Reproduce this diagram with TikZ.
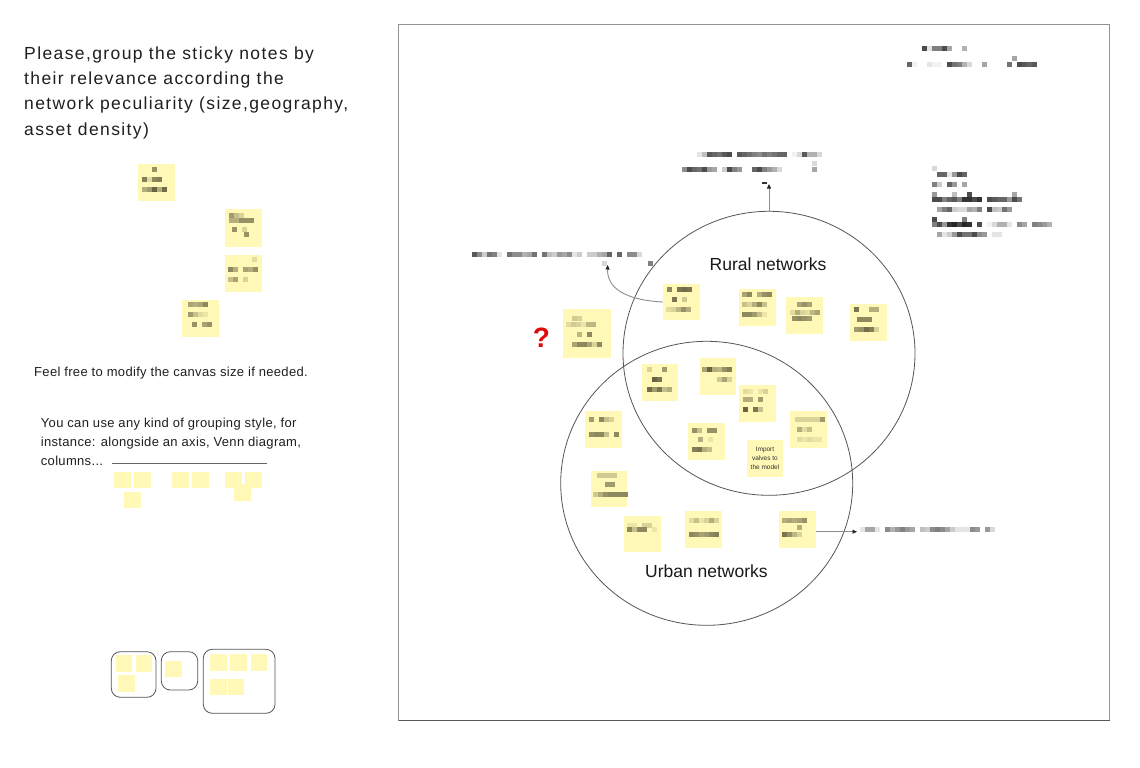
\documentclass[tikz,border=0pt]{standalone}
\usepackage{fontspec}
\setmainfont{Liberation Sans}
\newfontfamily\titlefont[LetterSpace=8]{Liberation Sans}
\newfontfamily\smallfont[LetterSpace=2.5]{Liberation Sans}
\usetikzlibrary{shapes.geometric,arrows.meta}
\definecolor{notefill}{RGB}{255,248,182}
\definecolor{noteink}{RGB}{66,62,36}
\definecolor{qred}{RGB}{225,10,10}
\definecolor{linegray}{RGB}{85,85,85}
\newcommand\pixrow[3]{%
  \foreach \g [count=\i from 0] in {#3} {%
    \ifnum\g>0 \fill[black!\g!white] ({#1+5*\i},{#2-2.5}) rectangle ++(5,5);\fi
  }}
\newcommand\inkrow[3]{%
  \foreach \g [count=\i from 0] in {#3} {%
    \ifnum\g>0 \fill[noteink!\g!notefill] ({#1+5*\i},{#2-2.5}) rectangle ++(5,5);\fi
  }}
\tikzset{
  sticky/.style={rectangle, fill=notefill, draw=none, inner sep=0pt, minimum width=36.7, minimum height=36.7},
  mini/.style={rectangle, fill=notefill, draw=none, inner sep=0pt, minimum width=16.5, minimum height=16.5},
  setcircle/.style={ellipse, draw=linegray, line width=0.8, minimum width=292, minimum height=284, inner sep=0pt},
  grpbox/.style={draw=linegray, line width=0.8, rounded corners=9},
  arr/.style={draw=black!45, line width=0.9, -{Triangle[length=4.5, width=4, color=black!85]}},
  bigtext/.style={font={\titlefont\fontsize{17.5}{25.3}\selectfont}, text=black!88, align=left, inner sep=0pt, anchor=base west},
  smalltext/.style={font={\smallfont\fontsize{13}{19}\selectfont}, text=black!88, align=left, inner sep=0pt, anchor=base west},
  setlabel/.style={font={\fontsize{17.5}{20}\selectfont}, text=black!90, inner sep=0pt, anchor=base},
}
\begin{document}
\begin{tikzpicture}[x=1pt, y=-1pt]
\useasboundingbox (0,0) rectangle (1140,768);
\fill[white] (0,0) rectangle (1140,768);

% ---------- left column ----------
% (base anchor of a multi-line node = baseline of its last line)
\node[bigtext] (title) at (24,135.2) {Please,group the sticky notes by\\their relevance according the\\network peculiarity (size,geography,\\asset density)};

\node[sticky, minimum height=37.3] (la) at (156.7,182.2) {};
\node[sticky, minimum height=37.3] (lb) at (243.3,228) {};
\node[sticky, minimum height=37.3] (lc) at (243.3,273.7) {};
\node[sticky, minimum height=37.3] (ld) at (200.8,318.7) {};
\inkrow{151.7}{169.3}{55}
\inkrow{141.7}{179}{65,15,60,65}
\inkrow{141.7}{189}{40,50,80,40,75}
\inkrow{229}{215}{50,30,20}
\inkrow{229}{220}{40,40,55,55,55}
\inkrow{232}{229.7}{55,0,20}
\inkrow{239}{234.7}{0,55}
\inkrow{252}{259}{15}
\inkrow{228}{269}{60,40,0,45,40,55}
\inkrow{228}{279}{30,45,0,20,0}
\inkrow{188}{304}{45,40,45,60}
\inkrow{188}{314}{50,30,15,10}
\inkrow{192}{324}{55,0,45,55}

\node[smalltext] (feel) at (34,376.7) {Feel free to modify the canvas size if needed.};
\node[smalltext] (youcan) at (40.7,465.3) {You can use any kind of grouping style, for\\instance: alongside an axis, Venn diagram,\\columns...};
\draw[black!60, line width=0.8] (111.7,463.3) -- (266.7,463.3);

\node[mini] (s1) at (122.7,480.2) {};
\node[mini] (s2) at (142.7,480.2) {};
\node[mini] (s3) at (132.7,500) {};
\node[mini] (s4) at (180.3,480.2) {};
\node[mini] (s5) at (200.3,480.2) {};
\node[mini] (s6) at (233.3,480.2) {};
\node[mini] (s7) at (253.3,480.2) {};
\node[mini] (s8) at (242.7,492.5) {};

\draw[grpbox] (111.3,651.7) rectangle (156,697.3);
\draw[grpbox] (161.3,651.7) rectangle (197.7,690);
\draw[grpbox] (203.3,649.3) rectangle (275,713.3);
\node[mini] (g1) at (124.2,663.7) {};
\node[mini] (g2) at (143.8,663.7) {};
\node[mini] (g3) at (126.5,683.7) {};
\node[mini] (g4) at (173.5,669.2) {};
\node[mini] (g5) at (218.7,662.7) {};
\node[mini] (g6) at (238.3,662.7) {};
\node[mini] (g7) at (258.8,662.7) {};
\node[mini] (g8) at (218.7,687.2) {};
\node[mini] (g9) at (236.2,687.2) {};

% ---------- canvas ----------
\draw[black!42, line width=1.3] (398.5,24.5) rectangle (1109.5,720.5);
\draw[black!65, line width=1.3] (398.5,720.5) -- (1109.5,720.5);

\node[setcircle] (rural) at (769,353.3) {};
\node[setcircle] (urban) at (706.7,483.3) {};
\node[setlabel] (rurallbl) at (768,270.5) {Rural networks};
\node[setlabel] (urbanlbl) at (706.4,577.7) {Urban networks};

% sticky notes in canvas
\node[sticky] (n1) at (681.3,302) {};
\node[sticky] (n2) at (757.3,307.7) {};
\node[sticky] (n3) at (804.3,315.7) {};
\node[sticky] (n4) at (868.3,322.3) {};
\node[sticky, minimum width=48.3, minimum height=48.7] (nq) at (586.8,333.7) {};
\node[sticky] (n6) at (660,382.3) {};
\node[sticky] (n7) at (718,376.8) {};
\node[sticky] (n8) at (757.5,403.7) {};
\node[sticky] (n9) at (808.3,429.3) {};
\node[sticky] (n10) at (706.7,441.7) {};
\node[sticky, align=center, font={\fontsize{6.5}{8.7}\selectfont}, text=black!80] (n11) at (765,458.3) {Import\\valves to\\the model};
\node[sticky] (n12) at (603.3,429.7) {};
\node[sticky] (n13) at (609,489) {};
\node[sticky] (n14) at (642.3,534) {};
\node[sticky] (n15) at (703.3,529.3) {};
\node[sticky] (n16) at (797.3,529.3) {};

% blurred contents of notes
\inkrow{666.7}{289.3}{60,0,70,75,70}
\inkrow{672.3}{299.3}{70,0,25}
\inkrow{666}{309.3}{15,20,35,55,40}
\inkrow{742}{294.3}{45,60,0,40,55,60}
\inkrow{742}{304.3}{30,20,40,60,30}
\inkrow{742}{314.3}{60,60,50,30,10}
\inkrow{797}{304.3}{45,55,45}
\inkrow{790}{312.3}{15,40,20,15,35,45}
\inkrow{792}{318.3}{55,60,55,50}
\inkrow{854}{309.3}{70,0,0,40,40}
\inkrow{857}{319.3}{60,60,60}
\inkrow{854}{329.3}{50,55,75,65,20}
\inkrow{572}{318.3}{25,20}
\inkrow{566}{324.3}{15,25,20,10,35,35}
\inkrow{577}{334.3}{35,0,60}
\inkrow{572}{344.3}{45,60,60,45,20,60}
\inkrow{647}{369.7}{20,0,0,50}
\inkrow{652}{379.7}{80,70}
\inkrow{647}{389.7}{75,50,70,30,40}
\inkrow{702}{369.3}{45,80,40,35,55,65}
\inkrow{717}{379.3}{25,45,20}
\inkrow{743}{391}{15,10,0,10,20}
\inkrow{743}{399.3}{40,40,0,50}
\inkrow{743}{409.3}{80,0,70,30}
\inkrow{795}{419}{20,20,20,20,20,50}
\inkrow{797}{429.3}{40,15,30}
\inkrow{797}{439.3}{15,10,15,10,10}
\inkrow{692}{430}{55,30,0,55,55}
\inkrow{698}{439.3}{40,0,10}
\inkrow{692}{449.3}{65,70,40,30}
\inkrow{589}{419.3}{50,0,60,30,20}
\inkrow{589}{434.3}{55,60,60,30,0,60}
\inkrow{597}{475.7}{25,25,25,25}
\inkrow{605}{484}{50,50}
\inkrow{593}{494.3}{25,40,55,60,60,60,60}
\inkrow{627}{525}{10,10,0,20,20}
\inkrow{627}{529.3}{60,30,60,60,0,10}
\inkrow{689}{520}{15,30,10,20,40,20}
\inkrow{689}{534.3}{60,55,45,50,60,65}
\inkrow{782}{520}{40,45,40,45,55}
\inkrow{797}{527.3}{40}
\inkrow{782}{534.3}{70,55,35,20}

\node[font={\bfseries\fontsize{28}{30}\selectfont}, text=qred, inner sep=0pt, anchor=base] (qmark) at (541.5,347.3) {?};

% connectors
\coordinate (topend) at (769,184);
\coordinate (leftend) at (607.7,265);
\coordinate (rightend) at (857,531.7);
\draw[arr] (rural.north) -- (topend);
\draw[arr] (n1.west) .. controls (625,300) and (607,288) .. (leftend);
\draw[arr] (n16.east |- rightend) -- (rightend);

% blurred annotations
\pixrow{921.7}{49}{70,10,50,50,70,35,0,0,30}
\pixrow{1012}{59}{35}
\pixrow{906.7}{64.3}{60,5,0,0,10,5,5,0,70,55,50,30,15,0,0,35,0,0,0,0,55,0,70,65,60,65}
\pixrow{697.3}{154.3}{10,25,65,60,55,65,70,0,65,60,55,50,45,55,50,55,60,60,0,5,15,65,30,30,15}
\pixrow{812}{163.3}{15}
\pixrow{682.3}{169.3}{45,70,60,55,70,40,35,0,20,70,50,40,0,0,60,70,50,40,30,15,0,0,0,0,0,0,35}
\fill[black!80] (762,181.7) rectangle (766.5,183.7);
\pixrow{471.7}{254.3}{65,45,20,55,50,10,0,55,45,45,30,35,55,0,55,25,20,40,35,45,10,20,0,20,20,30,35,60,0,60,0,45,45,15}
\pixrow{602}{263.3}{15}
\pixrow{647.5}{263.3}{50}
\pixrow{931.7}{168.3}{15}
\pixrow{931.7}{174.3}{0,60,60,10,40,70,60}
\pixrow{931.7}{184.3}{50,20,0,60,40,0,35}
\pixrow{931.7}{194.3}{40,0,0,0,25,0,0,70,0,0,0,0,0,0,0,0,35}
\pixrow{931.7}{199.3}{70,70,50,60,65,50,80,80,70,80,0,70,65,60,60,40,70,55}
\pixrow{931.7}{209.3}{0,35,50,60,20,15,15,35,30,50,0,70,25,20,55,40}
\pixrow{931.7}{219.3}{70,0,0,0,0,0,50}
\pixrow{931.7}{224.3}{50,70,40,80,85,70,85,80,0,70,0,5,15,30,30,10,0,45,35,0,50,45,40,30}
\pixrow{931.7}{234.3}{0,35,10,20,40,70,55,55,70,45,40,0,10,10}
\pixrow{859.5}{529.7}{10,35,35,10,0,45,30,40,50,40,35,0,25,20,45,50,45,35,20,10,10,10,45,40,0,40,15}
\end{tikzpicture}
\end{document}
